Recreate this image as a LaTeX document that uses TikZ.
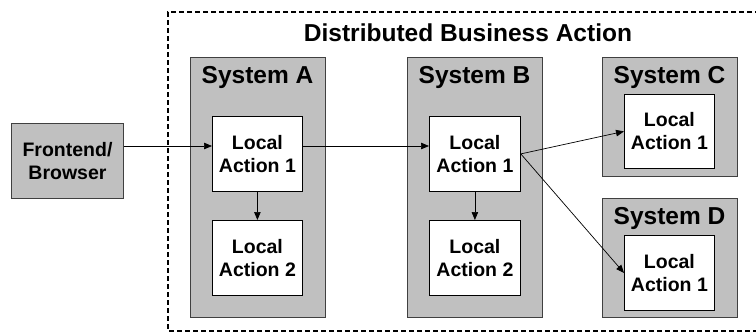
\documentclass[tikz,border=0pt]{standalone}
\usepackage{fontspec}
\setmainfont{Liberation Sans}
\usetikzlibrary{arrows.meta}
\definecolor{boxgray}{HTML}{C0C0C0}
\definecolor{edgegray}{HTML}{404040}
\begin{document}
\begin{tikzpicture}[x=1pt,y=-1pt,
  sysbox/.style={draw=edgegray,line width=1pt,fill=boxgray,anchor=north west,inner sep=0pt},
  actbox/.style={draw=black,line width=0.8pt,fill=white,anchor=north west,inner sep=0pt},
  systext/.style={font=\bfseries\fontsize{24.5}{28}\selectfont,inner sep=0pt},
  acttext/.style={font=\bfseries\fontsize{19.5}{23}\selectfont,align=center,inner sep=0pt},
  arr/.style={-{Triangle[length=8pt,width=6.5pt]},line width=0.7pt},
  frame/.style={draw=black,line width=1.6pt,dash pattern=on 5pt off 3pt}]
\useasboundingbox (0,0) rectangle (756,333);
\draw[frame] (760,12) -- (168,12) -- (168,331) -- (760,331);
\node[systext] (title) at (468,33) {Distributed Business Action};
% frontend
\node[sysbox,minimum width=112,minimum height=75] (fe) at (11,123) {};
\node[acttext] (fet) at (fe.center) {Frontend/\\Browser};
% System A
\node[sysbox,minimum width=135,minimum height=260] (sA) at (190,57) {};
\node[systext] (tA) at (257.5,77) {System A};
\node[actbox,minimum width=90,minimum height=75] (a1) at (212,116) {};
\node[acttext] at (a1.center) {Local\\Action 1};
\node[actbox,minimum width=90,minimum height=75] (a2) at (212,220) {};
\node[acttext] at (a2.center) {Local\\Action 2};
% System B
\node[sysbox,minimum width=135,minimum height=260] (sB) at (407,57) {};
\node[systext] (tB) at (474.5,77) {System B};
\node[actbox,minimum width=91,minimum height=75] (b1) at (429,116) {};
\node[acttext] at (b1.center) {Local\\Action 1};
\node[actbox,minimum width=91,minimum height=75] (b2) at (429,220) {};
\node[acttext] at (b2.center) {Local\\Action 2};
% System C
\node[sysbox,minimum width=135,minimum height=119] (sC) at (602,57) {};
\node[systext] (tC) at (669.5,77) {System C};
\node[actbox,minimum width=90,minimum height=74] (c1) at (624,94) {};
\node[acttext] at (c1.center) {Local\\Action 1};
% System D
\node[sysbox,minimum width=135,minimum height=119] (sD) at (602,198) {};
\node[systext] (tD) at (669.5,218) {System D};
\node[actbox,minimum width=90,minimum height=75] (d1) at (624,235) {};
\node[acttext] at (d1.center) {Local\\Action 1};
% arrows
\coordinate (ya) at (0,146);
\draw[arr] (fe.east |- ya) -- (a1.west |- ya);
\draw[arr] (a1.east |- ya) -- (b1.west |- ya);
\draw[arr] (a1.south) -- (a2.north);
\draw[arr] (b1.south) -- (b2.north);
\draw[arr] (b1.east) -- (c1.west);
\draw[arr] (b1.east) -- (d1.west);
\end{tikzpicture}
\end{document}
